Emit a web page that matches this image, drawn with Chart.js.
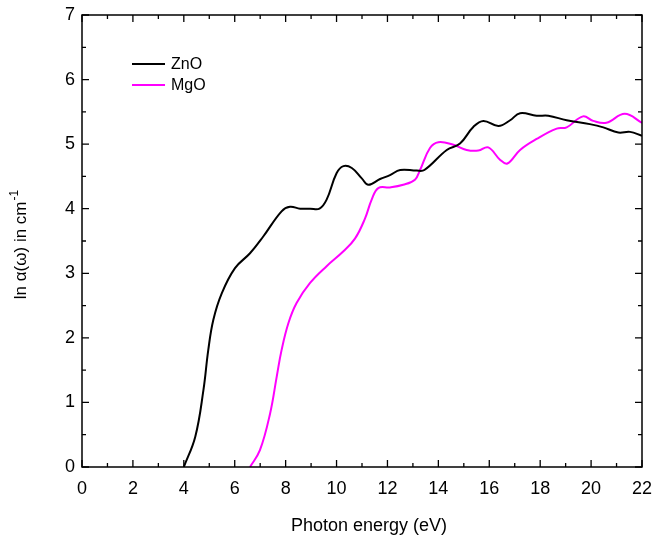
<!DOCTYPE html>
<html>
<head>
<meta charset="utf-8">
<script src="https://cdn.jsdelivr.net/npm/chart.js@4/dist/chart.umd.min.js"></script>
<style>
html,body{margin:0;padding:0;background:#fff;}
#wrap{width:652px;height:538px;}
</style>
</head>
<body>
<div id="wrap"><canvas id="c" width="652" height="538"></canvas></div>
<script>
const znoX = [4.0, 4.45, 4.77, 4.96, 5.16, 5.49, 6.01, 6.6, 7.12, 7.84, 8.17, 8.57, 8.96, 9.33, 9.61, 10.0, 10.27, 10.6, 10.99, 11.25, 11.71, 12.1, 12.5, 13.15, 13.45, 14.33, 14.85, 15.38, 15.77, 16.36, 16.82, 17.21, 17.86, 18.32, 19.04, 19.95, 20.48, 21.07, 21.53, 22.0];
const znoY = [0.0, 0.47, 1.19, 1.81, 2.28, 2.69, 3.08, 3.31, 3.57, 3.96, 4.03, 4.0, 4.0, 4.0, 4.14, 4.55, 4.66, 4.63, 4.47, 4.37, 4.46, 4.52, 4.6, 4.59, 4.6, 4.91, 5.01, 5.27, 5.36, 5.28, 5.37, 5.48, 5.44, 5.44, 5.37, 5.31, 5.26, 5.18, 5.19, 5.13];
const mgoX = [6.6, 6.99, 7.39, 7.65, 7.84, 8.11, 8.43, 8.96, 9.61, 10.27, 10.73, 11.12, 11.38, 11.64, 12.1, 12.62, 13.08, 13.28, 13.67, 14.0, 14.59, 15.11, 15.57, 15.96, 16.42, 16.71, 17.21, 17.86, 18.65, 19.04, 19.68, 20.08, 20.6, 21.32, 22.0];
const mgoY = [0.0, 0.26, 0.83, 1.4, 1.81, 2.23, 2.54, 2.85, 3.11, 3.34, 3.54, 3.85, 4.14, 4.32, 4.33, 4.37, 4.45, 4.6, 4.94, 5.03, 4.99, 4.91, 4.9, 4.95, 4.76, 4.7, 4.91, 5.08, 5.24, 5.26, 5.43, 5.36, 5.33, 5.47, 5.33];
const seriesNames = ['ZnO', 'MgO'];
const seriesColors = ['#000000', '#ff00ff'];
const xTicks = [0, 2, 4, 6, 8, 10, 12, 14, 16, 18, 20, 22];
const yTicks = [0, 1, 2, 3, 4, 5, 6, 7];
const xTitle = 'Photon energy (eV)';
const yTitleMain = 'ln α(ω) in cm';
const yTitleSup = '-1';

const FONT = '"Liberation Sans", Arial, sans-serif';
const toPts = (xs, ys) => xs.map((x, i) => ({x: x, y: ys[i]}));

const framePlugin = {
  id: 'frame',
  afterDraw(chart) {
    const ctx = chart.ctx;
    const a = chart.chartArea;
    const xs = chart.scales.x, ys = chart.scales.y;
    ctx.save();
    ctx.strokeStyle = '#000';
    ctx.lineWidth = 1.5;
    ctx.strokeRect(a.left, a.top, a.right - a.left, a.bottom - a.top);
    ctx.lineWidth = 1.3;
    ctx.beginPath();
    for (let v = 0; v <= 22; v += 1) {
      const p = xs.getPixelForValue(v);
      const len = (v % 2 === 0) ? 7 : 4;
      ctx.moveTo(p, a.bottom); ctx.lineTo(p, a.bottom - len);
      ctx.moveTo(p, a.top); ctx.lineTo(p, a.top + len);
    }
    for (let v = 0; v <= 7; v += 0.5) {
      const p = ys.getPixelForValue(v);
      const len = (Math.abs(v - Math.round(v)) < 1e-6) ? 7 : 4;
      ctx.moveTo(a.left, p); ctx.lineTo(a.left + len, p);
      ctx.moveTo(a.right, p); ctx.lineTo(a.right - len, p);
    }
    ctx.stroke();
    // tick labels
    ctx.fillStyle = '#000';
    ctx.font = '18px ' + FONT;
    ctx.textAlign = 'center';
    ctx.textBaseline = 'alphabetic';
    xTicks.forEach(v => ctx.fillText(String(v), xs.getPixelForValue(v), 494));
    ctx.textAlign = 'right';
    ctx.textBaseline = 'middle';
    yTicks.forEach(v => ctx.fillText(String(v), a.left - 7, ys.getPixelForValue(v)));
    // x title
    ctx.textAlign = 'center';
    ctx.textBaseline = 'alphabetic';
    ctx.font = '18px ' + FONT;
    ctx.fillText(xTitle, (a.left + a.right) / 2 + 7, 531);
    // y title
    ctx.save();
    ctx.translate(26, (a.top + a.bottom) / 2 + 4);
    ctx.rotate(-Math.PI / 2);
    ctx.font = '17px ' + FONT;
    const w1 = ctx.measureText(yTitleMain).width;
    ctx.font = '12px ' + FONT;
    const w2 = ctx.measureText(yTitleSup).width;
    const start = -(w1 + w2) / 2;
    ctx.textAlign = 'left';
    ctx.font = '17px ' + FONT;
    ctx.fillText(yTitleMain, start, 0);
    ctx.font = '12px ' + FONT;
    ctx.fillText(yTitleSup, start + w1 + 1, -8);
    ctx.restore();
    // legend
    ctx.font = '16px ' + FONT;
    ctx.textAlign = 'left';
    ctx.textBaseline = 'middle';
    const lx = 132, ly = [64, 85];
    seriesNames.forEach((n, i) => {
      ctx.strokeStyle = seriesColors[i];
      ctx.lineWidth = 2;
      ctx.beginPath();
      ctx.moveTo(lx, ly[i]); ctx.lineTo(lx + 33, ly[i]);
      ctx.stroke();
      ctx.fillStyle = '#000';
      ctx.fillText(n, lx + 39, ly[i] + 1);
    });
    ctx.restore();
  }
};

new Chart(document.getElementById('c'), {
  type: 'line',
  data: {
    datasets: [
      {label: seriesNames[0], data: toPts(znoX, znoY), borderColor: seriesColors[0], borderWidth: 2, pointRadius: 0, tension: 0.4, fill: false},
      {label: seriesNames[1], data: toPts(mgoX, mgoY), borderColor: seriesColors[1], borderWidth: 2, pointRadius: 0, tension: 0.4, fill: false}
    ]
  },
  options: {
    responsive: false,
    animation: false,
    devicePixelRatio: 1,
    layout: {padding: {top: 15, right: 10, left: 0, bottom: 0}},
    plugins: {legend: {display: false}, tooltip: {enabled: false}},
    scales: {
      x: {
        type: 'linear', min: 0, max: 22,
        grid: {display: false}, border: {display: false},
        ticks: {display: false},
        afterFit(s) { s.height = 71; }
      },
      y: {
        type: 'linear', min: 0, max: 7,
        grid: {display: false}, border: {display: false},
        ticks: {display: false},
        afterFit(s) { s.width = 82; }
      }
    }
  },
  plugins: [framePlugin]
});
</script>
</body>
</html>
